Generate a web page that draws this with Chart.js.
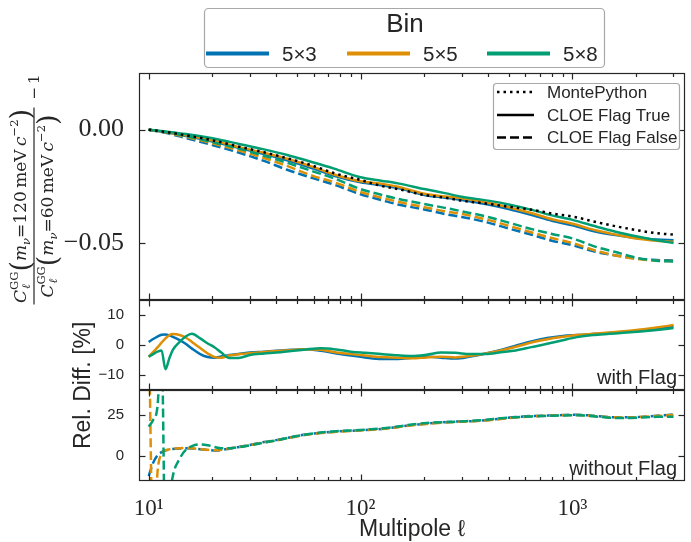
<!DOCTYPE html>
<html><head><meta charset="utf-8">
<script src="https://cdn.jsdelivr.net/npm/chart.js@4.4.0/dist/chart.umd.min.js"></script>
<style>html,body{margin:0;padding:0;background:#fff;}canvas{display:block;}</style>
</head><body>
<canvas id="c" width="691" height="542"></canvas>
<script>
// ---------------- data ----------------
const binLabels = ['5×3', '5×5', '5×8'];
const binColors = ['#0173B2', '#DE8F05', '#029E73'];

const xTickVals = [10, 100, 1000];
const xTickLabels = ['10¹', '10²', '10³'];
const yTopTicks = [-0.05, 0.00];
const yTopLabels = ['−0.05', '0.00'];
const yMidTicks = [-10, 0, 10];
const yMidLabels = ['−10', '0', '10'];
const yBotTicks = [0, 25];
const yBotLabels = ['0', '25'];

// upper panel: C_l(120 meV)/C_l(60 meV) - 1
const ellTop = [10, 12, 15, 20, 27, 35, 45, 60, 75, 100, 125, 150, 200, 250, 300, 400, 500, 650, 800, 1000, 1300, 1600, 2000, 2500, 3000];
const montePython = [0, -0.0010, -0.0025, -0.0047, -0.0076, -0.0100, -0.0126, -0.0160, -0.0192, -0.0222, -0.0248, -0.0262, -0.0288, -0.0300, -0.0313, -0.0327, -0.0340, -0.0354, -0.0370, -0.0383, -0.0408, -0.0426, -0.0443, -0.0457, -0.0463];
const flagTrue5x3 = [0, -0.0012, -0.0028, -0.0052, -0.0082, -0.0108, -0.0135, -0.0172, -0.0203, -0.0232, -0.0245, -0.0258, -0.0288, -0.0300, -0.0310, -0.0330, -0.0350, -0.0378, -0.0402, -0.0422, -0.0450, -0.0465, -0.0478, -0.0485, -0.0488];
const flagTrue5x5 = [0, -0.0010, -0.0025, -0.0048, -0.0078, -0.0102, -0.0128, -0.0165, -0.0198, -0.0228, -0.0238, -0.0252, -0.0283, -0.0295, -0.0303, -0.0322, -0.0342, -0.0370, -0.0395, -0.0415, -0.0445, -0.0463, -0.0480, -0.0490, -0.0495];
const flagTrue5x8 = [0, -0.0008, -0.0019, -0.0038, -0.0064, -0.0087, -0.0112, -0.0145, -0.0172, -0.0210, -0.0225, -0.0237, -0.0262, -0.0280, -0.0296, -0.0313, -0.0330, -0.0355, -0.0378, -0.0398, -0.0428, -0.0450, -0.0470, -0.0488, -0.0500];
const flagFalse5x3 = [0, -0.0014, -0.0037, -0.0068, -0.0103, -0.0138, -0.0177, -0.0215, -0.0243, -0.0285, -0.0310, -0.0330, -0.0352, -0.0372, -0.0385, -0.0410, -0.0436, -0.0465, -0.0490, -0.0510, -0.0540, -0.0555, -0.0568, -0.0575, -0.0577];
const flagFalse5x5 = [0, -0.0012, -0.0032, -0.0060, -0.0093, -0.0125, -0.0160, -0.0205, -0.0232, -0.0275, -0.0300, -0.0318, -0.0342, -0.0360, -0.0372, -0.0398, -0.0424, -0.0455, -0.0478, -0.0500, -0.0535, -0.0555, -0.0570, -0.0578, -0.0580];
const flagFalse5x8 = [0, -0.0010, -0.0028, -0.0055, -0.0085, -0.0115, -0.0146, -0.0185, -0.0215, -0.0262, -0.0287, -0.0305, -0.0328, -0.0345, -0.0360, -0.0385, -0.0410, -0.0440, -0.0460, -0.0480, -0.0518, -0.0540, -0.0565, -0.0578, -0.0582];

// lower panels: relative difference to MontePython [%]
const ellDiff = [10, 10.5, 11, 11.5, 12, 12.5, 13, 14, 15, 16, 17.5, 19, 20.5, 22, 24, 27, 30, 35, 40, 47, 55, 65, 77, 90, 105, 125, 150, 175, 205, 240, 280, 330, 390, 460, 540, 640, 760, 900, 1050, 1250, 1500, 1800, 2100, 2500, 3000];
const diffWith5x3 = [1.0, 2.0, 2.8, 3.4, 3.5, 3.2, 2.7, 1.6, 0.3, -1.2, -3.0, -4.0, -4.2, -3.8, -3.3, -2.9, -2.5, -2.2, -1.9, -1.6, -1.4, -1.9, -2.8, -3.5, -4.1, -4.6, -4.6, -4.2, -3.8, -4.2, -4.5, -3.8, -2.8, -1.6, -0.2, 1.2, 2.3, 3.0, 3.3, 3.6, 4.0, 4.4, 4.8, 5.5, 6.2];
const diffWith5x5 = [-3.9, -2.3, -0.8, 0.8, 2.2, 3.2, 3.6, 3.3, 2.4, 1.0, -1.0, -2.8, -4.0, -4.2, -3.5, -3.0, -2.7, -2.3, -2.0, -1.7, -1.4, -1.6, -2.5, -3.0, -3.5, -4.0, -4.2, -4.4, -4.1, -3.9, -4.1, -3.6, -2.8, -1.8, -0.6, 0.8, 1.9, 2.7, 3.3, 3.7, 4.1, 4.6, 5.1, 5.8, 6.6];
const diffWith5x8 = [-3.9, -3.0, -2.2, -1.8, -8.0, -4.5, -1.6, 1.0, 2.9, 3.7, 2.2, 0.5, -0.8, -2.5, -4.3, -4.2, -3.3, -2.8, -2.5, -2.0, -1.5, -1.1, -1.5, -2.2, -2.6, -3.0, -3.4, -3.6, -3.2, -2.5, -2.6, -3.0, -3.0, -2.4, -1.8, -0.7, 0.4, 1.6, 2.6, 3.3, 3.7, 4.1, 4.5, 5.0, 5.6];
const diffWithout5x3 = [-12, -4, 0.5, 2.5, 3.5, 4.0, 4.4, 4.7, 4.8, 4.7, 4.3, 3.8, 3.5, 3.8, 4.6, 5.8, 6.9, 8.6, 9.8, 11.6, 13.2, 14.3, 15.0, 15.5, 15.9, 16.6, 17.8, 19.0, 19.8, 20.5, 21.0, 21.3, 21.9, 22.9, 23.8, 24.4, 24.7, 25.0, 25.2, 24.6, 23.8, 23.6, 23.9, 24.6, 25.3];
const diffWithout5x5 = [90, -60, -10, 1.5, 3.5, 4.2, 4.6, 4.9, 5.0, 4.8, 4.4, 3.9, 3.6, 3.9, 4.7, 5.7, 6.8, 8.4, 9.6, 11.4, 13.0, 14.1, 14.8, 15.3, 15.8, 16.5, 17.6, 18.8, 19.6, 20.3, 20.8, 21.2, 21.7, 22.6, 23.5, 24.2, 24.6, 24.9, 25.0, 24.5, 23.7, 23.5, 23.8, 24.4, 25.0];
const diffWithout5x8 = [18, 22, 30, 70, -60, -28, -12, -1.5, 4.0, 6.2, 7.2, 6.7, 5.6, 4.8, 4.9, 5.6, 6.6, 8.3, 9.6, 11.5, 13.1, 14.4, 15.2, 15.6, 16.1, 16.8, 18.0, 19.3, 20.2, 20.6, 20.9, 21.4, 22.1, 23.0, 23.7, 24.2, 24.5, 24.8, 24.9, 24.3, 23.4, 23.2, 23.5, 23.9, 24.0];

// ---------------- styles ----------------
const INK = '#262626';
const SANS = '"Liberation Sans", Arial, sans-serif';
const MATH = '"DejaVu Serif", serif';
const DASH = [9, 4];
const DOT = [2.5, 4];
const LW = 2.5;

const pts = (xs, ys) => xs.map((x, i) => ({x: x, y: ys[i]}));
const tops = [[flagTrue5x3, flagFalse5x3], [flagTrue5x5, flagFalse5x5], [flagTrue5x8, flagFalse5x8]];
const withs = [diffWith5x3, diffWith5x5, diffWith5x8];
const withouts = [diffWithout5x3, diffWithout5x5, diffWithout5x8];

const datasets = [];
datasets.push({label: 'MontePython', data: pts(ellTop, montePython), yAxisID: 'y', borderColor: '#000', borderDash: DOT, order: 0});
for (let b = 0; b < 3; b++) {
  const ord = 3 - b;
  datasets.push({label: binLabels[b] + ' CLOE Flag True', data: pts(ellTop, tops[b][0]), yAxisID: 'y', borderColor: binColors[b], order: ord});
  datasets.push({label: binLabels[b] + ' CLOE Flag False', data: pts(ellTop, tops[b][1]), yAxisID: 'y', borderColor: binColors[b], borderDash: DASH, order: ord});
  datasets.push({label: binLabels[b] + ' with Flag', data: pts(ellDiff, withs[b]), yAxisID: 'y2', borderColor: binColors[b], order: ord});
  datasets.push({label: binLabels[b] + ' without Flag', data: pts(ellDiff, withouts[b]), yAxisID: 'y3', borderColor: binColors[b], borderDash: DASH, order: ord});
}
datasets.forEach(d => { d.borderWidth = LW; d.pointRadius = 0; d.fill = false; d.clip = 0; d.cubicInterpolationMode = 'monotone'; d.borderCapStyle = 'butt'; });

function yAxis(min, max, ticks, labels, weight, font) {
  return {
    type: 'linear', position: 'left', stack: 'panels', stackWeight: weight, min: min, max: max,
    grid: {display: false, drawTicks: false}, border: {display: false},
    afterBuildTicks: s => { s.ticks = ticks.map(v => ({value: v})); },
    afterFit: s => { s.width = 139; },
    ticks: {color: INK, font: font, padding: 15, autoSkip: false, callback: (v, i) => labels[i]}
  };
}

// ---------------- frames & tick marks ----------------
const framePlugin = {
  id: 'frames',
  afterDatasetsDraw(chart) {
    const ctx = chart.ctx, xs = chart.scales.x;
    const L = Math.round(xs.left) + 0.5, R = Math.round(xs.right) - 0.5;
    const minor = [];
    for (let d = 1; d <= 1000; d *= 10) for (let k = 2; k <= 9; k++) { const v = k * d; if (v > xs.min && v < xs.max) minor.push(v); }
    ctx.save();
    ctx.strokeStyle = INK; ctx.lineWidth = 1.2;
    const seg = (a, b, c, d) => { ctx.beginPath(); ctx.moveTo(a, b); ctx.lineTo(c, d); ctx.stroke(); };
    for (const id of ['y', 'y2', 'y3']) {
      const ys = chart.scales[id];
      const T = Math.round(ys.top) + 0.5, B = Math.round(ys.bottom) - 0.5;
      for (const v of xTickVals) { const p = Math.round(xs.getPixelForValue(v)) + 0.5; seg(p, T, p, T + 6); seg(p, B, p, B - 6); }
      for (const v of minor) { const p = Math.round(xs.getPixelForValue(v)) + 0.5; seg(p, T, p, T + 3.5); seg(p, B, p, B - 3.5); }
      for (const t of ys.ticks) { const p = Math.round(ys.getPixelForValue(t.value)) + 0.5; seg(L, p, L + 6, p); seg(R, p, R - 6, p); }
      ctx.strokeRect(L, T, R - L, B - T);
    }
    ctx.restore();
  }
};

// ---------------- texts, legends ----------------
function runsWidth(ctx, runs) {
  let w = 0;
  for (const r of runs) {
    if (r.sup !== undefined) { ctx.font = r.f; const a = ctx.measureText(r.sup).width; ctx.font = r.fs; const b = ctx.measureText(r.sub).width; w += Math.max(a, b); }
    else { ctx.font = r.f; w += ctx.measureText(r.t).width; }
  }
  return w;
}
function drawRuns(ctx, runs, u, v) {
  for (const r of runs) {
    if (r.sup !== undefined) {
      ctx.font = r.f; ctx.fillText(r.sup, u, v + r.up); const a = ctx.measureText(r.sup).width;
      ctx.font = r.fs; ctx.fillText(r.sub, u + 1, v + r.dn); const b = ctx.measureText(r.sub).width;
      u += Math.max(a, b);
    } else { ctx.font = r.f; ctx.fillText(r.t, u, v + (r.dy || 0)); u += ctx.measureText(r.t).width; }
  }
}
function fracRuns(mass) {
  const S = 17, s = 11.5, P = 27;
  return [
    {t: 'C', f: `italic ${S}px ${MATH}`},
    {sup: 'GG', sub: 'ℓ', f: `${s}px ${MATH}`, fs: `italic ${s}px ${MATH}`, up: -8, dn: 4},
    {t: '(', f: `${P}px ${MATH}`, dy: 4},
    {t: 'm', f: `italic ${S}px ${MATH}`},
    {t: 'ν', f: `italic ${s}px ${MATH}`, dy: 4},
    {t: '=' + mass + '\u2009meV\u2009', f: `${S}px ${MATH}`},
    {t: 'c', f: `italic ${S}px ${MATH}`},
    {t: '−2', f: `${s}px ${MATH}`, dy: -8},
    {t: ')', f: `${P}px ${MATH}`, dy: 4}
  ];
}
function roundBox(ctx, x, y, w, h, r) {
  ctx.beginPath();
  ctx.moveTo(x + r, y); ctx.lineTo(x + w - r, y); ctx.arcTo(x + w, y, x + w, y + r, r);
  ctx.lineTo(x + w, y + h - r); ctx.arcTo(x + w, y + h, x + w - r, y + h, r);
  ctx.lineTo(x + r, y + h); ctx.arcTo(x, y + h, x, y + h - r, r);
  ctx.lineTo(x, y + r); ctx.arcTo(x, y, x + r, y, r); ctx.closePath();
  ctx.fillStyle = '#fff'; ctx.fill(); ctx.strokeStyle = '#a8a8a8'; ctx.lineWidth = 1.2; ctx.stroke();
}
const textPlugin = {
  id: 'texts',
  afterDraw(chart) {
    const ctx = chart.ctx, xs = chart.scales.x;
    ctx.save();
    ctx.fillStyle = INK; ctx.textBaseline = 'middle';
    // Bin legend
    roundBox(ctx, 204.5, 8.5, 400, 59, 4);
    ctx.fillStyle = INK; ctx.textAlign = 'center'; ctx.font = `26px ${SANS}`;
    ctx.fillText('Bin', 405, 25);
    const lx = [206, 347, 487];
    ctx.font = `20.5px ${SANS}`; ctx.textAlign = 'left';
    for (let b = 0; b < 3; b++) {
      ctx.strokeStyle = binColors[b]; ctx.lineWidth = 4; ctx.setLineDash([]);
      ctx.beginPath(); ctx.moveTo(lx[b], 53.5); ctx.lineTo(lx[b] + 63, 53.5); ctx.stroke();
      ctx.fillStyle = INK; ctx.fillText(binLabels[b], lx[b] + 76, 55);
    }
    // style legend
    roundBox(ctx, 493.5, 83.5, 186, 66, 3);
    const st = [['MontePython', DOT, 92], ['CLOE Flag True', [], 115], ['CLOE Flag False', DASH, 137.5]];
    ctx.font = `17px ${SANS}`;
    for (const [lab, dash, y] of st) {
      ctx.strokeStyle = '#000'; ctx.lineWidth = LW; ctx.setLineDash(dash);
      ctx.beginPath(); ctx.moveTo(497, y); ctx.lineTo(534, y); ctx.stroke();
      ctx.fillStyle = INK; ctx.fillText(lab, 547, y + 1);
    }
    ctx.setLineDash([]);
    // panel annotations
    ctx.textAlign = 'right'; ctx.textBaseline = 'alphabetic'; ctx.font = `20px ${SANS}`;
    ctx.fillText('with Flag', 677, chart.scales.y2.bottom - 6);
    ctx.fillText('without Flag', 677, chart.scales.y3.bottom - 6);
    // x title
    ctx.textAlign = 'center'; ctx.font = `23px ${SANS}`;
    ctx.fillText('Multipole ℓ', (xs.left + xs.right) / 2, 536);
    // Rel. Diff. label
    ctx.save(); ctx.translate(90, chart.scales.y2.bottom - 5); ctx.rotate(-Math.PI / 2);
    ctx.font = `23px ${SANS}`; ctx.textAlign = 'center'; ctx.fillText('Rel. Diff. [%]', 0, 0); ctx.restore();
    // upper y label (fraction)
    ctx.save(); ctx.translate(34, 206); ctx.rotate(-Math.PI / 2);
    ctx.textAlign = 'left'; ctx.fillStyle = INK;
    const num = fracRuns('120'), den = fracRuns('60');
    const wn = runsWidth(ctx, num), wd = runsWidth(ctx, den), wl = Math.max(wn, wd) + 3;
    drawRuns(ctx, num, -wn / 2, -8);
    drawRuns(ctx, den, -wd / 2, 19);
    ctx.fillRect(-wl / 2, -0.6, wl, 1.2);
    ctx.font = `15px ${MATH}`;
    ctx.fillText('−\u20091', wl / 2 + 8, 5);
    ctx.restore();
    ctx.restore();
  }
};

new Chart(document.getElementById('c'), {
  type: 'line',
  data: {datasets: datasets},
  options: {
    responsive: false, animation: false, devicePixelRatio: 1,
    layout: {padding: {left: 0, right: 6, top: 73, bottom: 0}},
    plugins: {legend: {display: false}, tooltip: {enabled: false}},
    scales: {
      x: {
        type: 'logarithmic', position: 'bottom', min: 9, max: 3400,
        grid: {display: false, drawTicks: false}, border: {display: false},
        afterBuildTicks: s => { s.ticks = xTickVals.map(v => ({value: v})); },
        afterFit: s => { s.height = 61; },
        ticks: {color: INK, font: {family: 'Liberation Serif', size: 23}, padding: 14, autoSkip: false, maxRotation: 0,
                callback: (v, i) => xTickLabels[i]}
      },
      y3: yAxis(-15, 40, yBotTicks, yBotLabels, 1, {family: 'Liberation Sans', size: 15}),
      y2: yAxis(-15, 15, yMidTicks, yMidLabels, 1, {family: 'Liberation Sans', size: 15}),
      y: yAxis(-0.075, 0.025, yTopTicks, yTopLabels, 2.5, {family: 'Liberation Serif', size: 26})
    }
  },
  plugins: [framePlugin, textPlugin]
});
</script>
</body></html>
